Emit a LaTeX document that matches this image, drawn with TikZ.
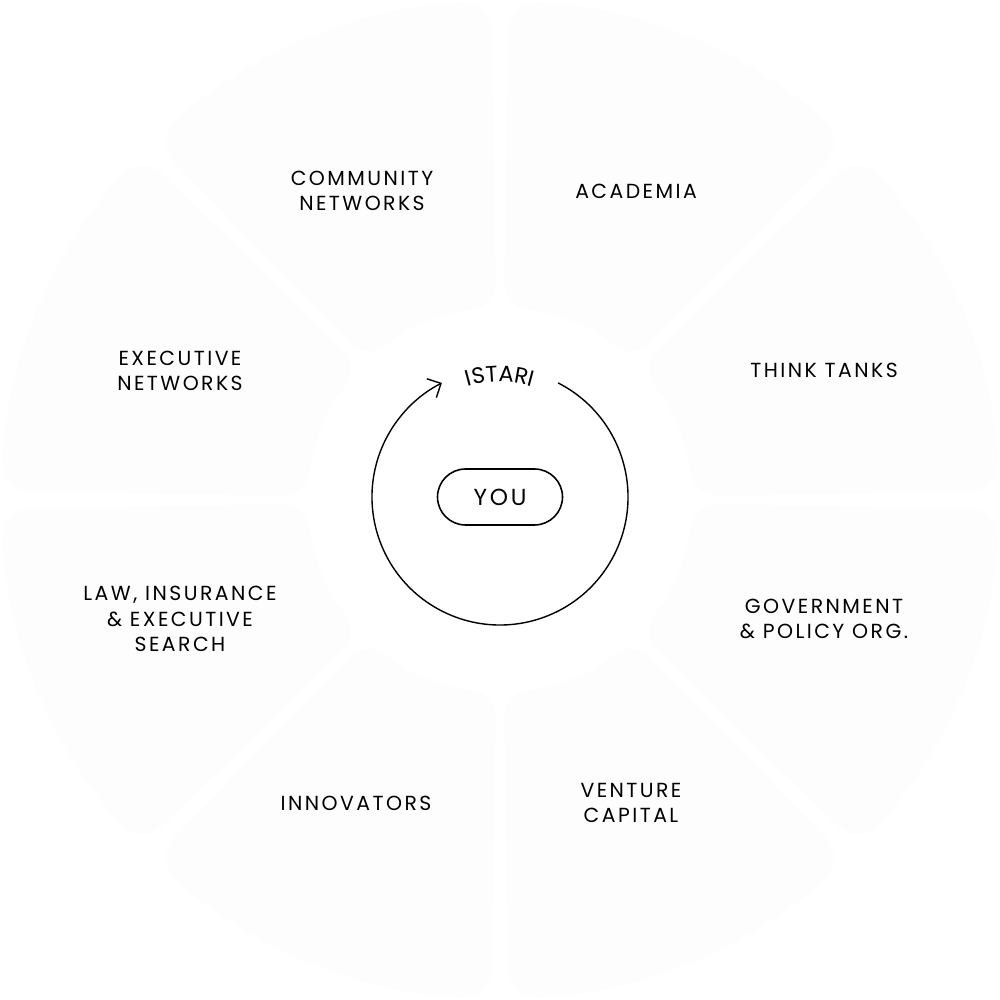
\documentclass[tikz,border=0pt]{standalone}
\usepackage{fontspec}
\newfontfamily\lab[LetterSpace=12]{Poppins}
\usetikzlibrary{decorations.text,arrows.meta}
\tikzset{
  sector/.style={fill=black!0.8,draw=none,rounded corners=8pt},
  place/.style={align=center,font=\lab\fontsize{5.8}{7.2}\selectfont},
}
\begin{document}
\begin{tikzpicture}
\useasboundingbox (-5,-5) rectangle (5,5);
% faint ring of sectors
\foreach \a in {0,45,...,315} {
  \draw[sector] ({\a+1.2}:1.9) arc ({\a+1.2}:{\a+43.8}:1.9)
    -- ({\a+43.8+0.2}:4.98) arc ({\a+44}:{\a+1}:4.98) -- cycle;
}
\node[place] (comm) at (-1.38,3.09) {COMMUNITY\\NETWORKS};
\node[place] (acad) at (1.36,3.09) {ACADEMIA};
\node[place] (think) at (3.24,1.3) {THINK TANKS};
\node[place] (gov) at (3.24,-1.19) {GOVERNMENT\\\& POLICY ORG.};
\node[place] (vc) at (1.31,-3.03) {VENTURE\\CAPITAL};
\node[place] (innov) at (-1.44,-3.03) {INNOVATORS};
\node[place] (law) at (-3.2,-1.19) {LAW, INSURANCE\\\& EXECUTIVE\\SEARCH};
\node[place] (exec) at (-3.2,1.29) {EXECUTIVE\\NETWORKS};
% centre
\node[place,font=\lab\fontsize{6.6}{7.2}\selectfont,draw,minimum width=1.25cm,minimum height=0.56cm,rounded corners=0.28cm,line width=0.45pt] (you) at (0,0.03) {YOU};
\coordinate (hub) at (0,0.03);
\draw[line width=0.4pt,-{Straight Barb[length=3pt]}] ([shift={(63:1.28)}]hub) arc (63:-243:1.28);
\path[decorate,decoration={text along path,text align=center,
  text={|\lab\fontsize{6.4}{7}\selectfont|ISTARI}}]
  ([shift={(112:1.15)}]hub) arc (112:68:1.15);
\end{tikzpicture}
\end{document}
